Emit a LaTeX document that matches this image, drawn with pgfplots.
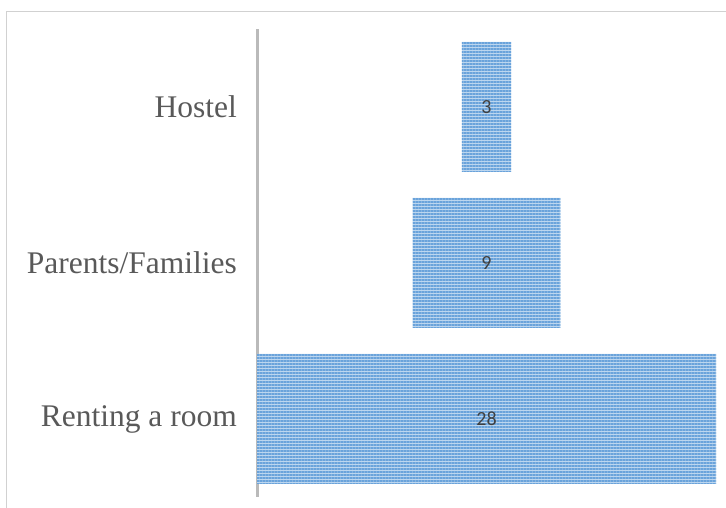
\documentclass[border=0pt]{standalone}
\usepackage{pgfplots}
\pgfplotsset{compat=1.18}
\usepackage{fontspec}
\setmainfont{Liberation Serif}
\newfontfamily\carlito{Carlito}
\usetikzlibrary{patterns.meta}
\definecolor{bardark}{HTML}{6AA3DB}
\definecolor{barlight}{HTML}{BCD6EF}
\definecolor{labgray}{HTML}{595959}
\definecolor{valgray}{HTML}{404040}
\begin{document}
\begin{tikzpicture}
\useasboundingbox (0,0) rectangle (726pt,508pt);
\draw[black!18, line width=0.8pt] (6pt,0pt) -- (6pt,497pt) -- (726pt,497pt);
\begin{axis}[
  at={(257pt,11pt)}, anchor=south west,
  scale only axis, width=459pt, height=468pt,
  xbar stacked,
  bar width=130pt,
  xmin=0, xmax=28,
  ymin=-0.5, ymax=2.5,
  ytick={0,1,2},
  yticklabels={Renting a room, Parents/Families, Hostel},
  axis x line=none,
  axis y line*=left,
  y axis line style={black!27, line width=3pt},
  major tick length=0pt,
  yticklabel style={font=\fontsize{31.5}{36}\selectfont, text=labgray, inner sep=0pt, xshift=-20pt},
  clip=false,
]
\addplot[draw=none, fill=none] coordinates {(0,0) (9.5,1) (12.5,2)};
\addplot[fill=barlight, draw=none,
  postaction={pattern={Lines[angle=0,distance=3pt,line width=1.5pt]}, pattern color=bardark}]
  coordinates {(28,0) (9,1) (3,2)};
\end{axis}
\begin{axis}[
  at={(257pt,11pt)}, anchor=south west,
  scale only axis, width=459pt, height=468pt,
  xmin=0, xmax=28,
  ymin=-0.5, ymax=2.5,
  axis lines=none, ticks=none,
  clip=false,
]
\addplot[only marks, mark=none, point meta=explicit symbolic,
  nodes near coords={\carlito\fontsize{20}{24}\selectfont\textcolor{valgray}{\pgfplotspointmeta}},
  nodes near coords align=center]
  coordinates {(14,0) [28] (14,1) [9] (14,2) [3]};
\end{axis}
\end{tikzpicture}
\end{document}
